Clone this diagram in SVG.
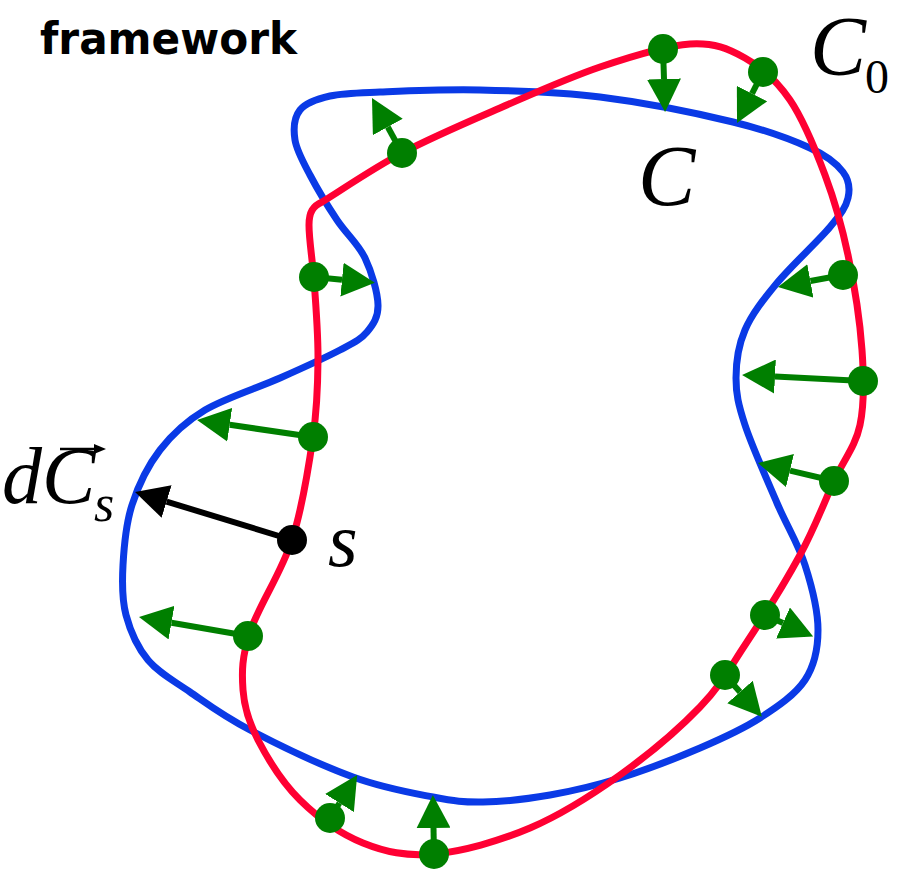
<svg xmlns="http://www.w3.org/2000/svg" width="898" height="875" viewBox="0 0 898 875">
<style>
.c0{fill:none;stroke:#FF0033;stroke-width:7;stroke-linejoin:round}
.c{fill:none;stroke:#0A3AE6;stroke-width:7;stroke-linejoin:round}
.g line{stroke:#007F00;stroke-width:6}
.g circle{fill:#007F00}
.k line{stroke:#000;stroke-width:6}
.k circle{fill:#000}
.lbl{font-family:"Liberation Serif","Times New Roman",serif;font-style:italic;fill:#000}
.num{font-family:"Liberation Serif","Times New Roman",serif;fill:#000}
.title{font-family:"DejaVu Sans",Verdana,sans-serif;font-weight:bold;fill:#000}
</style>
<defs>
<marker id="hg" markerUnits="userSpaceOnUse" markerWidth="33" markerHeight="34" viewBox="0 0 33 34" refX="0" refY="17" orient="auto"><path d="M0,0 L33,17 L0,34 z" fill="#007F00"/></marker>
<marker id="hk" markerUnits="userSpaceOnUse" markerWidth="33" markerHeight="34" viewBox="0 0 33 34" refX="0" refY="17" orient="auto"><path d="M0,0 L33,17 L0,34 z" fill="#000"/></marker>
</defs>
<text class="title" x="40" y="54" font-size="44" textLength="257" lengthAdjust="spacingAndGlyphs">framework</text>
<g id="curve-C">
<path class="c" d="M330,96 C343.3,93 355,93 380,92 C405,91 443.3,89.2 480,90 C516.7,90.8 557.8,91.7 600,97 C642.2,102.3 698,113.5 733,122 C768,130.5 791.7,139.7 810,148 C828.3,156.3 836.7,163.7 843,172 C849.3,180.3 850.2,188.8 848,198 C845.8,207.2 841.8,212.8 830,227 C818.2,241.2 791.2,265.8 777,283 C762.8,300.2 751.8,314.2 745,330 C738.2,345.8 736,362.2 736,378 C736,393.8 738.2,404.2 745,425 C751.8,445.8 767,479.7 777,503 C787,526.3 798.2,543.8 805,565 C811.8,586.2 818,610.8 818,630 C818,649.2 814.7,665.3 805,680 C795.3,694.7 777.5,706.7 760,718 C742.5,729.3 723.3,738 700,748 C676.7,758 645,770.2 620,778 C595,785.8 572.8,791 550,795 C527.2,799 502.5,801.7 483,802 C463.5,802.3 454.7,801.2 433,797 C411.3,792.8 383.5,788.2 353,777 C322.5,765.8 277.2,744.2 250,730 C222.8,715.8 207,703.7 190,692 C173,680.3 158.7,672.8 148,660 C137.3,647.2 130.2,630.8 126,615 C121.8,599.2 122,583.3 123,565 C124,546.7 125.8,524.2 132,505 C138.2,485.8 147.8,465.8 160,450 C172.2,434.2 185,422 205,410 C225,398 257.5,388 280,378 C302.5,368 325.5,357.7 340,350 C354.5,342.3 360.7,339.5 367,332 C373.3,324.5 378.3,317.3 378,305 C377.7,292.7 371.8,272.2 365,258 C358.2,243.8 346.2,233.8 337,220 C327.8,206.2 317,188.3 310,175 C303,161.7 296.7,150.8 295,140 C293.3,129.2 294.2,117.3 300,110 C305.8,102.7 316.7,99 330,96 Z"/>
</g>
<g id="curve-C0">
<path class="c0" d="M322,202 C337,193 372.3,168.7 402,153 C431.7,137.3 467,122.3 500,108 C533,93.7 568.3,77.7 600,67 C631.7,56.3 665.8,45.5 690,44 C714.2,42.5 728.3,48.7 745,58 C761.7,67.3 776.7,80.5 790,100 C803.3,119.5 815.3,149.2 825,175 C834.7,200.8 841.8,225.8 848,255 C854.2,284.2 860,321.7 862,350 C864,378.3 864.7,403.2 860,425 C855.3,446.8 844,459.3 834,481 C824,502.7 814.8,527.7 800,555 C785.2,582.3 761.7,619.7 745,645 C728.3,670.3 720.8,685.3 700,707 C679.2,728.7 648.3,754.8 620,775 C591.7,795.2 561,814.8 530,828 C499,841.2 461.8,851.5 434,854 C406.2,856.5 385.3,852 363,843 C340.7,834 317.5,817.2 300,800 C282.5,782.8 267.5,758.3 258,740 C248.5,721.7 244.3,708 243,690 C241.7,672 241.8,657 250,632 C258.2,607 281.5,572.5 292,540 C302.5,507.5 308.7,467 313,437 C317.3,407 317.8,386.2 318,360 C318.2,333.8 315.7,302 314,280 C312.3,258 309,240 309,225 C309,212 313,206 322,202 Z"/>
</g>
<g id="connectors">
<g class="g">
<line x1="663" y1="49" x2="664" y2="79" marker-end="url(#hg)"/>
<line x1="763" y1="72" x2="752" y2="93.6" marker-end="url(#hg)"/>
<line x1="402" y1="153" x2="387.8" y2="127" marker-end="url(#hg)"/>
<line x1="314" y1="277" x2="342" y2="279.7" marker-end="url(#hg)"/>
<line x1="843" y1="275" x2="810.4" y2="281" marker-end="url(#hg)"/>
<line x1="863" y1="381" x2="775" y2="376.6" marker-end="url(#hg)"/>
<line x1="834" y1="481" x2="790" y2="470.6" marker-end="url(#hg)"/>
<line x1="313" y1="437" x2="229.7" y2="424.8" marker-end="url(#hg)"/>
<line x1="248" y1="636" x2="171.5" y2="622.7" marker-end="url(#hg)"/>
<line x1="765" y1="615" x2="783" y2="623" marker-end="url(#hg)"/>
<line x1="725" y1="675" x2="740" y2="692" marker-end="url(#hg)"/>
<line x1="330" y1="818" x2="339.5" y2="803" marker-end="url(#hg)"/>
<line x1="434" y1="854" x2="433.5" y2="828" marker-end="url(#hg)"/>
</g>
<g class="k">
<line x1="292" y1="540" x2="166.6" y2="501.6" marker-end="url(#hk)"/>
</g>
</g>
<g id="points" class="g">
<circle cx="663" cy="49" r="15"/>
<circle cx="763" cy="72" r="15"/>
<circle cx="402" cy="153" r="15"/>
<circle cx="314" cy="277" r="15"/>
<circle cx="843" cy="275" r="15"/>
<circle cx="863" cy="381" r="15"/>
<circle cx="834" cy="481" r="15"/>
<circle cx="313" cy="437" r="15"/>
<circle cx="248" cy="636" r="15"/>
<circle cx="765" cy="615" r="15"/>
<circle cx="725" cy="675" r="15"/>
<circle cx="330" cy="818" r="15"/>
<circle cx="434" cy="854" r="15"/>
</g>
<g id="point-s" class="k"><circle cx="292" cy="540" r="15"/></g>
<g id="labels">
<text class="lbl" x="810" y="75" font-size="84">C</text>
<text class="num" x="865" y="93" font-size="48">0</text>
<text class="lbl" x="638" y="205" font-size="86">C</text>
<text class="lbl" x="2" y="503" font-size="80">dC</text>
<text class="lbl" x="94" y="521" font-size="52">s</text>
<text class="lbl" x="328" y="566" font-size="76">s</text>
<g id="vec-accent"><line x1="60" y1="449" x2="96" y2="449" stroke="#000" stroke-width="2.5"/><path d="M94,444 L106,449 L94,454 z" fill="#000"/></g>
</g>
</svg>
